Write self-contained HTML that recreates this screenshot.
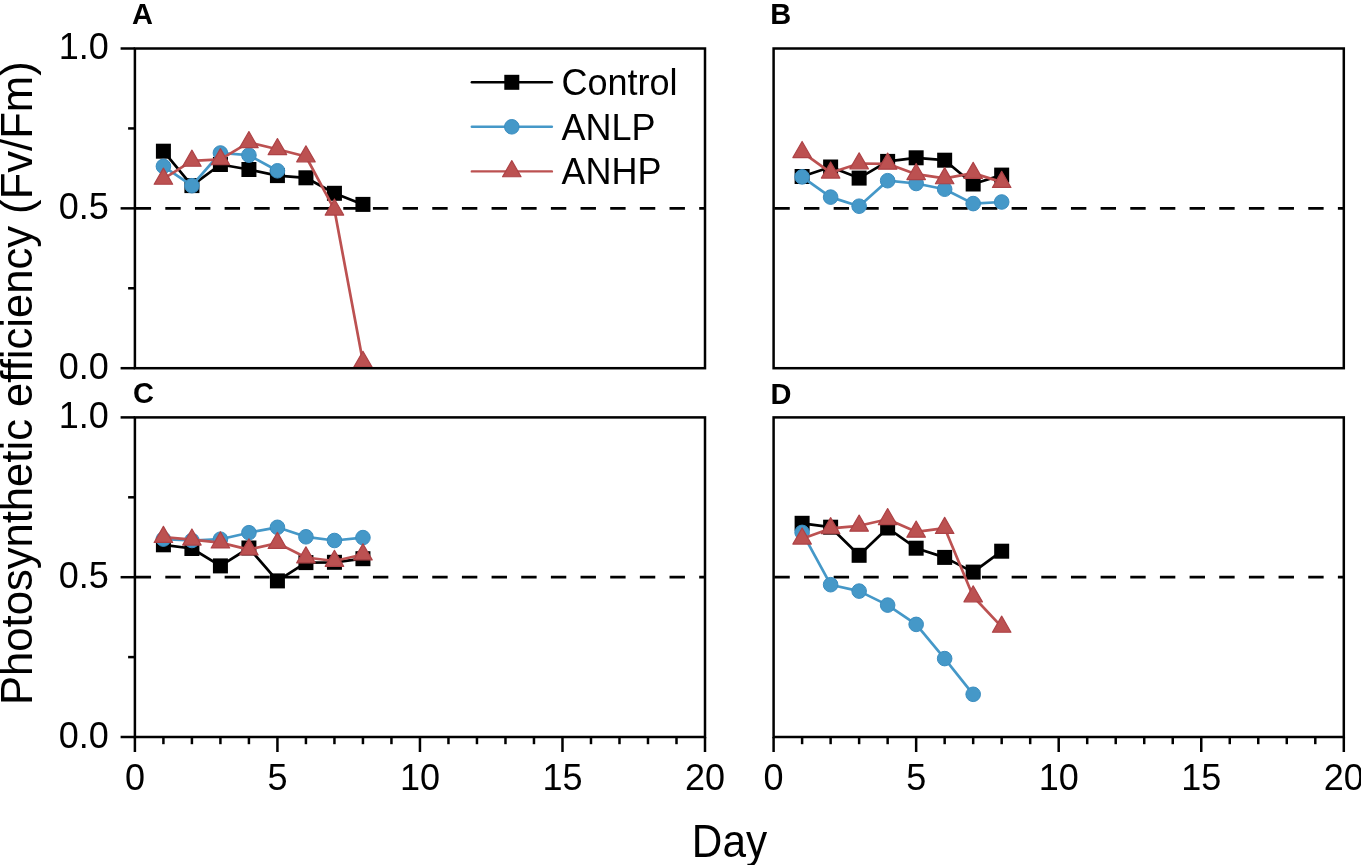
<!DOCTYPE html><html><head><meta charset="utf-8"><style>html,body{margin:0;padding:0;background:#fff;width:1361px;height:865px;overflow:hidden}svg{display:block;will-change:transform}text{font-family:"Liberation Sans",sans-serif;fill:#000}</style></head><body>
<svg width="1361" height="865" viewBox="0 0 1361 865">
<rect width="1361" height="865" fill="#fff"/>
<line x1="134.9" y1="208.35" x2="705" y2="208.35" stroke="#000000" stroke-width="2.7" stroke-dasharray="15.4 14.26" stroke-dashoffset="-0.75"/>
<polyline points="163.41,151.2 191.91,185.6 220.42,164.5 248.92,169.5 277.43,175.6 305.93,177.8 334.44,193.3 362.94,204.4" fill="none" stroke="#000000" stroke-width="2.7" stroke-linejoin="round" stroke-linecap="round"/>
<rect x="155.91" y="143.7" width="15" height="15" fill="#000000"/>
<rect x="184.41" y="178.1" width="15" height="15" fill="#000000"/>
<rect x="212.92" y="157" width="15" height="15" fill="#000000"/>
<rect x="241.42" y="162" width="15" height="15" fill="#000000"/>
<rect x="269.93" y="168.1" width="15" height="15" fill="#000000"/>
<rect x="298.43" y="170.3" width="15" height="15" fill="#000000"/>
<rect x="326.94" y="185.8" width="15" height="15" fill="#000000"/>
<rect x="355.44" y="196.9" width="15" height="15" fill="#000000"/>
<polyline points="163.41,166.3 191.91,185.7 220.42,153 248.92,155.2 277.43,170.8" fill="none" stroke="#4598c8" stroke-width="2.7" stroke-linejoin="round" stroke-linecap="round"/>
<circle cx="163.41" cy="166.3" r="7.3" fill="#4598c8" stroke="#3a8dc0" stroke-width="1"/>
<circle cx="191.91" cy="185.7" r="7.3" fill="#4598c8" stroke="#3a8dc0" stroke-width="1"/>
<circle cx="220.42" cy="153" r="7.3" fill="#4598c8" stroke="#3a8dc0" stroke-width="1"/>
<circle cx="248.92" cy="155.2" r="7.3" fill="#4598c8" stroke="#3a8dc0" stroke-width="1"/>
<circle cx="277.43" cy="170.8" r="7.3" fill="#4598c8" stroke="#3a8dc0" stroke-width="1"/>
<polyline points="163.41,178.9 191.91,160.9 220.42,159.4 248.92,142.3 277.43,149.3 305.93,156.5 334.44,209.7 362.94,362" fill="none" stroke="#bc5151" stroke-width="2.7" stroke-linejoin="round" stroke-linecap="round"/>
<path d="M163.41 168.17L172.66 184.27L154.16 184.27Z" fill="#bc5151" stroke="#ad4246" stroke-width="1.2" stroke-linejoin="round"/>
<path d="M191.91 150.17L201.16 166.27L182.66 166.27Z" fill="#bc5151" stroke="#ad4246" stroke-width="1.2" stroke-linejoin="round"/>
<path d="M220.42 148.67L229.67 164.77L211.17 164.77Z" fill="#bc5151" stroke="#ad4246" stroke-width="1.2" stroke-linejoin="round"/>
<path d="M248.92 131.57L258.17 147.67L239.67 147.67Z" fill="#bc5151" stroke="#ad4246" stroke-width="1.2" stroke-linejoin="round"/>
<path d="M277.43 138.57L286.68 154.67L268.18 154.67Z" fill="#bc5151" stroke="#ad4246" stroke-width="1.2" stroke-linejoin="round"/>
<path d="M305.93 145.77L315.18 161.87L296.68 161.87Z" fill="#bc5151" stroke="#ad4246" stroke-width="1.2" stroke-linejoin="round"/>
<path d="M334.44 198.97L343.69 215.07L325.19 215.07Z" fill="#bc5151" stroke="#ad4246" stroke-width="1.2" stroke-linejoin="round"/>
<path d="M362.94 351.27L372.19 367.37L353.69 367.37Z" fill="#bc5151" stroke="#ad4246" stroke-width="1.2" stroke-linejoin="round"/>
<rect x="134.9" y="48.5" width="570.1" height="319.7" fill="none" stroke="#000" stroke-width="2.5"/>
<line x1="120.6" y1="368.2" x2="134.9" y2="368.2" stroke="#000000" stroke-width="2.5"/>
<text x="108.9" y="378.8" font-size="36" text-anchor="end" font-weight="normal">0.0</text>
<line x1="128.1" y1="288.27" x2="134.9" y2="288.27" stroke="#000000" stroke-width="2.5"/>
<line x1="120.6" y1="208.35" x2="134.9" y2="208.35" stroke="#000000" stroke-width="2.5"/>
<text x="108.9" y="218.95" font-size="36" text-anchor="end" font-weight="normal">0.5</text>
<line x1="128.1" y1="128.43" x2="134.9" y2="128.43" stroke="#000000" stroke-width="2.5"/>
<line x1="120.6" y1="48.5" x2="134.9" y2="48.5" stroke="#000000" stroke-width="2.5"/>
<text x="108.9" y="59.1" font-size="36" text-anchor="end" font-weight="normal">1.0</text>
<line x1="773.6" y1="208.35" x2="1343.8" y2="208.35" stroke="#000000" stroke-width="2.7" stroke-dasharray="15.4 14.26" stroke-dashoffset="-0.75"/>
<polyline points="802.11,176.5 830.62,167 859.13,178.1 887.64,161.4 916.15,157.8 944.66,160.2 973.17,184 1001.68,175.1" fill="none" stroke="#000000" stroke-width="2.7" stroke-linejoin="round" stroke-linecap="round"/>
<rect x="794.61" y="169" width="15" height="15" fill="#000000"/>
<rect x="823.12" y="159.5" width="15" height="15" fill="#000000"/>
<rect x="851.63" y="170.6" width="15" height="15" fill="#000000"/>
<rect x="880.14" y="153.9" width="15" height="15" fill="#000000"/>
<rect x="908.65" y="150.3" width="15" height="15" fill="#000000"/>
<rect x="937.16" y="152.7" width="15" height="15" fill="#000000"/>
<rect x="965.67" y="176.5" width="15" height="15" fill="#000000"/>
<rect x="994.18" y="167.6" width="15" height="15" fill="#000000"/>
<polyline points="802.11,176.9 830.62,197.1 859.13,206.2 887.64,180.7 916.15,183.5 944.66,189.2 973.17,203.6 1001.68,202" fill="none" stroke="#4598c8" stroke-width="2.7" stroke-linejoin="round" stroke-linecap="round"/>
<circle cx="802.11" cy="176.9" r="7.3" fill="#4598c8" stroke="#3a8dc0" stroke-width="1"/>
<circle cx="830.62" cy="197.1" r="7.3" fill="#4598c8" stroke="#3a8dc0" stroke-width="1"/>
<circle cx="859.13" cy="206.2" r="7.3" fill="#4598c8" stroke="#3a8dc0" stroke-width="1"/>
<circle cx="887.64" cy="180.7" r="7.3" fill="#4598c8" stroke="#3a8dc0" stroke-width="1"/>
<circle cx="916.15" cy="183.5" r="7.3" fill="#4598c8" stroke="#3a8dc0" stroke-width="1"/>
<circle cx="944.66" cy="189.2" r="7.3" fill="#4598c8" stroke="#3a8dc0" stroke-width="1"/>
<circle cx="973.17" cy="203.6" r="7.3" fill="#4598c8" stroke="#3a8dc0" stroke-width="1"/>
<circle cx="1001.68" cy="202" r="7.3" fill="#4598c8" stroke="#3a8dc0" stroke-width="1"/>
<polyline points="802.11,152.2 830.62,172.7 859.13,163.5 887.64,163.8 916.15,174.2 944.66,178.4 973.17,173.1 1001.68,182.1" fill="none" stroke="#bc5151" stroke-width="2.7" stroke-linejoin="round" stroke-linecap="round"/>
<path d="M802.11 141.47L811.36 157.57L792.86 157.57Z" fill="#bc5151" stroke="#ad4246" stroke-width="1.2" stroke-linejoin="round"/>
<path d="M830.62 161.97L839.87 178.07L821.37 178.07Z" fill="#bc5151" stroke="#ad4246" stroke-width="1.2" stroke-linejoin="round"/>
<path d="M859.13 152.77L868.38 168.87L849.88 168.87Z" fill="#bc5151" stroke="#ad4246" stroke-width="1.2" stroke-linejoin="round"/>
<path d="M887.64 153.07L896.89 169.17L878.39 169.17Z" fill="#bc5151" stroke="#ad4246" stroke-width="1.2" stroke-linejoin="round"/>
<path d="M916.15 163.47L925.4 179.57L906.9 179.57Z" fill="#bc5151" stroke="#ad4246" stroke-width="1.2" stroke-linejoin="round"/>
<path d="M944.66 167.67L953.91 183.77L935.41 183.77Z" fill="#bc5151" stroke="#ad4246" stroke-width="1.2" stroke-linejoin="round"/>
<path d="M973.17 162.37L982.42 178.47L963.92 178.47Z" fill="#bc5151" stroke="#ad4246" stroke-width="1.2" stroke-linejoin="round"/>
<path d="M1001.68 171.37L1010.93 187.47L992.43 187.47Z" fill="#bc5151" stroke="#ad4246" stroke-width="1.2" stroke-linejoin="round"/>
<rect x="773.6" y="48.5" width="570.2" height="319.7" fill="none" stroke="#000" stroke-width="2.5"/>
<line x1="134.9" y1="577.2" x2="705" y2="577.2" stroke="#000000" stroke-width="2.7" stroke-dasharray="15.4 14.26" stroke-dashoffset="-0.75"/>
<polyline points="163.41,544.8 191.91,548.5 220.42,565.9 248.92,548 277.43,580.9 305.93,562.6 334.44,562.3 362.94,558.7" fill="none" stroke="#000000" stroke-width="2.7" stroke-linejoin="round" stroke-linecap="round"/>
<rect x="155.91" y="537.3" width="15" height="15" fill="#000000"/>
<rect x="184.41" y="541" width="15" height="15" fill="#000000"/>
<rect x="212.92" y="558.4" width="15" height="15" fill="#000000"/>
<rect x="241.42" y="540.5" width="15" height="15" fill="#000000"/>
<rect x="269.93" y="573.4" width="15" height="15" fill="#000000"/>
<rect x="298.43" y="555.1" width="15" height="15" fill="#000000"/>
<rect x="326.94" y="554.8" width="15" height="15" fill="#000000"/>
<rect x="355.44" y="551.2" width="15" height="15" fill="#000000"/>
<polyline points="163.41,539.1 191.91,540.5 220.42,539.2 248.92,532.7 277.43,527.3 305.93,536.8 334.44,540.5 362.94,537.6" fill="none" stroke="#4598c8" stroke-width="2.7" stroke-linejoin="round" stroke-linecap="round"/>
<circle cx="163.41" cy="539.1" r="7.3" fill="#4598c8" stroke="#3a8dc0" stroke-width="1"/>
<circle cx="191.91" cy="540.5" r="7.3" fill="#4598c8" stroke="#3a8dc0" stroke-width="1"/>
<circle cx="220.42" cy="539.2" r="7.3" fill="#4598c8" stroke="#3a8dc0" stroke-width="1"/>
<circle cx="248.92" cy="532.7" r="7.3" fill="#4598c8" stroke="#3a8dc0" stroke-width="1"/>
<circle cx="277.43" cy="527.3" r="7.3" fill="#4598c8" stroke="#3a8dc0" stroke-width="1"/>
<circle cx="305.93" cy="536.8" r="7.3" fill="#4598c8" stroke="#3a8dc0" stroke-width="1"/>
<circle cx="334.44" cy="540.5" r="7.3" fill="#4598c8" stroke="#3a8dc0" stroke-width="1"/>
<circle cx="362.94" cy="537.6" r="7.3" fill="#4598c8" stroke="#3a8dc0" stroke-width="1"/>
<polyline points="163.41,537.1 191.91,539.7 220.42,542.6 248.92,549.6 277.43,543.1 305.93,557.5 334.44,561 362.94,554.5" fill="none" stroke="#bc5151" stroke-width="2.7" stroke-linejoin="round" stroke-linecap="round"/>
<path d="M163.41 526.37L172.66 542.47L154.16 542.47Z" fill="#bc5151" stroke="#ad4246" stroke-width="1.2" stroke-linejoin="round"/>
<path d="M191.91 528.97L201.16 545.07L182.66 545.07Z" fill="#bc5151" stroke="#ad4246" stroke-width="1.2" stroke-linejoin="round"/>
<path d="M220.42 531.87L229.67 547.97L211.17 547.97Z" fill="#bc5151" stroke="#ad4246" stroke-width="1.2" stroke-linejoin="round"/>
<path d="M248.92 538.87L258.17 554.97L239.67 554.97Z" fill="#bc5151" stroke="#ad4246" stroke-width="1.2" stroke-linejoin="round"/>
<path d="M277.43 532.37L286.68 548.47L268.18 548.47Z" fill="#bc5151" stroke="#ad4246" stroke-width="1.2" stroke-linejoin="round"/>
<path d="M305.93 546.77L315.18 562.87L296.68 562.87Z" fill="#bc5151" stroke="#ad4246" stroke-width="1.2" stroke-linejoin="round"/>
<path d="M334.44 550.27L343.69 566.37L325.19 566.37Z" fill="#bc5151" stroke="#ad4246" stroke-width="1.2" stroke-linejoin="round"/>
<path d="M362.94 543.77L372.19 559.87L353.69 559.87Z" fill="#bc5151" stroke="#ad4246" stroke-width="1.2" stroke-linejoin="round"/>
<rect x="134.9" y="417.4" width="570.1" height="319.6" fill="none" stroke="#000" stroke-width="2.5"/>
<line x1="120.6" y1="737" x2="134.9" y2="737" stroke="#000000" stroke-width="2.5"/>
<text x="108.9" y="747.6" font-size="36" text-anchor="end" font-weight="normal">0.0</text>
<line x1="128.1" y1="657.1" x2="134.9" y2="657.1" stroke="#000000" stroke-width="2.5"/>
<line x1="120.6" y1="577.2" x2="134.9" y2="577.2" stroke="#000000" stroke-width="2.5"/>
<text x="108.9" y="587.8" font-size="36" text-anchor="end" font-weight="normal">0.5</text>
<line x1="128.1" y1="497.3" x2="134.9" y2="497.3" stroke="#000000" stroke-width="2.5"/>
<line x1="120.6" y1="417.4" x2="134.9" y2="417.4" stroke="#000000" stroke-width="2.5"/>
<text x="108.9" y="428" font-size="36" text-anchor="end" font-weight="normal">1.0</text>
<line x1="134.9" y1="737" x2="134.9" y2="752" stroke="#000000" stroke-width="2.5"/>
<text x="134.9" y="789.8" font-size="36" text-anchor="middle" font-weight="normal">0</text>
<line x1="163.41" y1="737" x2="163.41" y2="744.2" stroke="#000000" stroke-width="2.5"/>
<line x1="191.91" y1="737" x2="191.91" y2="744.2" stroke="#000000" stroke-width="2.5"/>
<line x1="220.42" y1="737" x2="220.42" y2="744.2" stroke="#000000" stroke-width="2.5"/>
<line x1="248.92" y1="737" x2="248.92" y2="744.2" stroke="#000000" stroke-width="2.5"/>
<line x1="277.43" y1="737" x2="277.43" y2="752" stroke="#000000" stroke-width="2.5"/>
<text x="277.43" y="789.8" font-size="36" text-anchor="middle" font-weight="normal">5</text>
<line x1="305.93" y1="737" x2="305.93" y2="744.2" stroke="#000000" stroke-width="2.5"/>
<line x1="334.44" y1="737" x2="334.44" y2="744.2" stroke="#000000" stroke-width="2.5"/>
<line x1="362.94" y1="737" x2="362.94" y2="744.2" stroke="#000000" stroke-width="2.5"/>
<line x1="391.45" y1="737" x2="391.45" y2="744.2" stroke="#000000" stroke-width="2.5"/>
<line x1="419.95" y1="737" x2="419.95" y2="752" stroke="#000000" stroke-width="2.5"/>
<text x="419.95" y="789.8" font-size="36" text-anchor="middle" font-weight="normal">10</text>
<line x1="448.46" y1="737" x2="448.46" y2="744.2" stroke="#000000" stroke-width="2.5"/>
<line x1="476.96" y1="737" x2="476.96" y2="744.2" stroke="#000000" stroke-width="2.5"/>
<line x1="505.47" y1="737" x2="505.47" y2="744.2" stroke="#000000" stroke-width="2.5"/>
<line x1="533.97" y1="737" x2="533.97" y2="744.2" stroke="#000000" stroke-width="2.5"/>
<line x1="562.48" y1="737" x2="562.48" y2="752" stroke="#000000" stroke-width="2.5"/>
<text x="562.48" y="789.8" font-size="36" text-anchor="middle" font-weight="normal">15</text>
<line x1="590.98" y1="737" x2="590.98" y2="744.2" stroke="#000000" stroke-width="2.5"/>
<line x1="619.49" y1="737" x2="619.49" y2="744.2" stroke="#000000" stroke-width="2.5"/>
<line x1="647.99" y1="737" x2="647.99" y2="744.2" stroke="#000000" stroke-width="2.5"/>
<line x1="676.5" y1="737" x2="676.5" y2="744.2" stroke="#000000" stroke-width="2.5"/>
<line x1="705" y1="737" x2="705" y2="752" stroke="#000000" stroke-width="2.5"/>
<text x="705" y="789.8" font-size="36" text-anchor="middle" font-weight="normal">20</text>
<line x1="773.6" y1="577.2" x2="1343.8" y2="577.2" stroke="#000000" stroke-width="2.7" stroke-dasharray="15.4 14.26" stroke-dashoffset="-0.75"/>
<polyline points="802.11,523.3 830.62,527.2 859.13,555.3 887.64,528 916.15,548.2 944.66,557.4 973.17,572.1 1001.68,551.2" fill="none" stroke="#000000" stroke-width="2.7" stroke-linejoin="round" stroke-linecap="round"/>
<rect x="794.61" y="515.8" width="15" height="15" fill="#000000"/>
<rect x="823.12" y="519.7" width="15" height="15" fill="#000000"/>
<rect x="851.63" y="547.8" width="15" height="15" fill="#000000"/>
<rect x="880.14" y="520.5" width="15" height="15" fill="#000000"/>
<rect x="908.65" y="540.7" width="15" height="15" fill="#000000"/>
<rect x="937.16" y="549.9" width="15" height="15" fill="#000000"/>
<rect x="965.67" y="564.6" width="15" height="15" fill="#000000"/>
<rect x="994.18" y="543.7" width="15" height="15" fill="#000000"/>
<polyline points="802.11,532.4 830.62,584.7 859.13,591.1 887.64,605.1 916.15,624.4 944.66,658.6 973.17,694.3" fill="none" stroke="#4598c8" stroke-width="2.7" stroke-linejoin="round" stroke-linecap="round"/>
<circle cx="802.11" cy="532.4" r="7.3" fill="#4598c8" stroke="#3a8dc0" stroke-width="1"/>
<circle cx="830.62" cy="584.7" r="7.3" fill="#4598c8" stroke="#3a8dc0" stroke-width="1"/>
<circle cx="859.13" cy="591.1" r="7.3" fill="#4598c8" stroke="#3a8dc0" stroke-width="1"/>
<circle cx="887.64" cy="605.1" r="7.3" fill="#4598c8" stroke="#3a8dc0" stroke-width="1"/>
<circle cx="916.15" cy="624.4" r="7.3" fill="#4598c8" stroke="#3a8dc0" stroke-width="1"/>
<circle cx="944.66" cy="658.6" r="7.3" fill="#4598c8" stroke="#3a8dc0" stroke-width="1"/>
<circle cx="973.17" cy="694.3" r="7.3" fill="#4598c8" stroke="#3a8dc0" stroke-width="1"/>
<polyline points="802.11,538.7 830.62,528.4 859.13,525.8 887.64,519.3 916.15,531.8 944.66,528.1 973.17,596.5 1001.68,626.9" fill="none" stroke="#bc5151" stroke-width="2.7" stroke-linejoin="round" stroke-linecap="round"/>
<path d="M802.11 527.97L811.36 544.07L792.86 544.07Z" fill="#bc5151" stroke="#ad4246" stroke-width="1.2" stroke-linejoin="round"/>
<path d="M830.62 517.67L839.87 533.77L821.37 533.77Z" fill="#bc5151" stroke="#ad4246" stroke-width="1.2" stroke-linejoin="round"/>
<path d="M859.13 515.07L868.38 531.17L849.88 531.17Z" fill="#bc5151" stroke="#ad4246" stroke-width="1.2" stroke-linejoin="round"/>
<path d="M887.64 508.57L896.89 524.67L878.39 524.67Z" fill="#bc5151" stroke="#ad4246" stroke-width="1.2" stroke-linejoin="round"/>
<path d="M916.15 521.07L925.4 537.17L906.9 537.17Z" fill="#bc5151" stroke="#ad4246" stroke-width="1.2" stroke-linejoin="round"/>
<path d="M944.66 517.37L953.91 533.47L935.41 533.47Z" fill="#bc5151" stroke="#ad4246" stroke-width="1.2" stroke-linejoin="round"/>
<path d="M973.17 585.77L982.42 601.87L963.92 601.87Z" fill="#bc5151" stroke="#ad4246" stroke-width="1.2" stroke-linejoin="round"/>
<path d="M1001.68 616.17L1010.93 632.27L992.43 632.27Z" fill="#bc5151" stroke="#ad4246" stroke-width="1.2" stroke-linejoin="round"/>
<rect x="773.6" y="417.4" width="570.2" height="319.6" fill="none" stroke="#000" stroke-width="2.5"/>
<line x1="773.6" y1="737" x2="773.6" y2="752" stroke="#000000" stroke-width="2.5"/>
<text x="773.6" y="789.8" font-size="36" text-anchor="middle" font-weight="normal">0</text>
<line x1="802.11" y1="737" x2="802.11" y2="744.2" stroke="#000000" stroke-width="2.5"/>
<line x1="830.62" y1="737" x2="830.62" y2="744.2" stroke="#000000" stroke-width="2.5"/>
<line x1="859.13" y1="737" x2="859.13" y2="744.2" stroke="#000000" stroke-width="2.5"/>
<line x1="887.64" y1="737" x2="887.64" y2="744.2" stroke="#000000" stroke-width="2.5"/>
<line x1="916.15" y1="737" x2="916.15" y2="752" stroke="#000000" stroke-width="2.5"/>
<text x="916.15" y="789.8" font-size="36" text-anchor="middle" font-weight="normal">5</text>
<line x1="944.66" y1="737" x2="944.66" y2="744.2" stroke="#000000" stroke-width="2.5"/>
<line x1="973.17" y1="737" x2="973.17" y2="744.2" stroke="#000000" stroke-width="2.5"/>
<line x1="1001.68" y1="737" x2="1001.68" y2="744.2" stroke="#000000" stroke-width="2.5"/>
<line x1="1030.19" y1="737" x2="1030.19" y2="744.2" stroke="#000000" stroke-width="2.5"/>
<line x1="1058.7" y1="737" x2="1058.7" y2="752" stroke="#000000" stroke-width="2.5"/>
<text x="1058.7" y="789.8" font-size="36" text-anchor="middle" font-weight="normal">10</text>
<line x1="1087.21" y1="737" x2="1087.21" y2="744.2" stroke="#000000" stroke-width="2.5"/>
<line x1="1115.72" y1="737" x2="1115.72" y2="744.2" stroke="#000000" stroke-width="2.5"/>
<line x1="1144.23" y1="737" x2="1144.23" y2="744.2" stroke="#000000" stroke-width="2.5"/>
<line x1="1172.74" y1="737" x2="1172.74" y2="744.2" stroke="#000000" stroke-width="2.5"/>
<line x1="1201.25" y1="737" x2="1201.25" y2="752" stroke="#000000" stroke-width="2.5"/>
<text x="1201.25" y="789.8" font-size="36" text-anchor="middle" font-weight="normal">15</text>
<line x1="1229.76" y1="737" x2="1229.76" y2="744.2" stroke="#000000" stroke-width="2.5"/>
<line x1="1258.27" y1="737" x2="1258.27" y2="744.2" stroke="#000000" stroke-width="2.5"/>
<line x1="1286.78" y1="737" x2="1286.78" y2="744.2" stroke="#000000" stroke-width="2.5"/>
<line x1="1315.29" y1="737" x2="1315.29" y2="744.2" stroke="#000000" stroke-width="2.5"/>
<line x1="1343.8" y1="737" x2="1343.8" y2="752" stroke="#000000" stroke-width="2.5"/>
<text x="1343.8" y="789.8" font-size="36" text-anchor="middle" font-weight="normal">20</text>
<text x="132" y="24" font-size="29" text-anchor="start" font-weight="bold">A</text>
<text x="770.3" y="24.2" font-size="29" text-anchor="start" font-weight="bold">B</text>
<text x="133" y="403.4" font-size="29" text-anchor="start" font-weight="bold">C</text>
<text x="770.6" y="403.9" font-size="29" text-anchor="start" font-weight="bold">D</text>
<line x1="471.8" y1="82.3" x2="551.9" y2="82.3" stroke="#000000" stroke-width="2.4" stroke-linecap="round"/>
<rect x="504.3" y="74.8" width="15" height="15" fill="#000000"/>
<text x="561.5" y="95" font-size="36" text-anchor="start" font-weight="normal">Control</text>
<line x1="471.8" y1="126.8" x2="551.9" y2="126.8" stroke="#4598c8" stroke-width="2.4" stroke-linecap="round"/>
<circle cx="511.8" cy="126.8" r="7.3" fill="#4598c8" stroke="#3a8dc0" stroke-width="1"/>
<text x="561.5" y="139.5" font-size="36" text-anchor="start" font-weight="normal">ANLP</text>
<line x1="471.8" y1="171.4" x2="551.9" y2="171.4" stroke="#bc5151" stroke-width="2.4" stroke-linecap="round"/>
<path d="M511.8 160.67L521.05 176.77L502.55 176.77Z" fill="#bc5151" stroke="#ad4246" stroke-width="1.2" stroke-linejoin="round"/>
<text x="561.5" y="184.1" font-size="36" text-anchor="start" font-weight="normal">ANHP</text>
<g transform="translate(729.5 857.3) scale(0.985 1.065)"><text x="0" y="0" font-size="43" text-anchor="middle" font-weight="normal">Day</text></g>
<g transform="translate(32.2 383.2) rotate(-90) scale(1.014 1.044)"><text x="0" y="0" font-size="43" text-anchor="middle" font-weight="normal">Photosynthetic efficiency (Fv/Fm)</text></g>
</svg></body></html>
